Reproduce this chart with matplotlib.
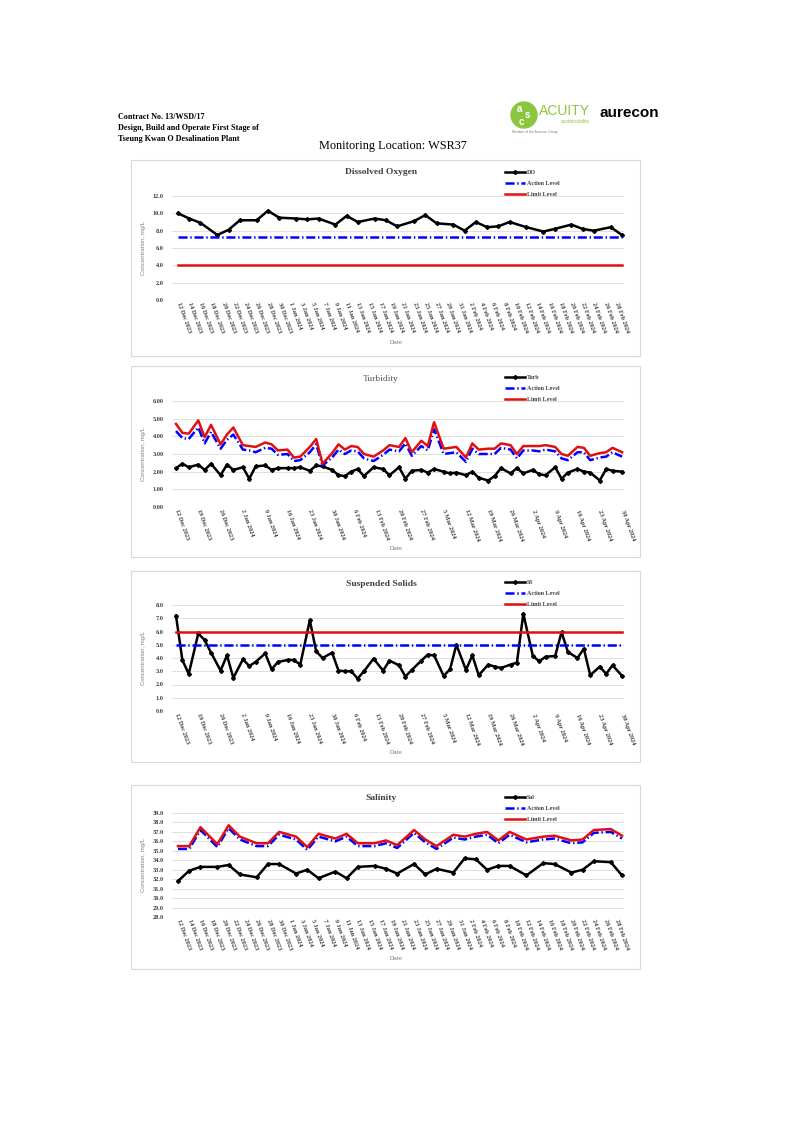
import pandas as pd
import matplotlib
matplotlib.use('Agg')
import matplotlib.pyplot as plt
import matplotlib.dates as mdates
from matplotlib.patches import Rectangle, Circle
from matplotlib.transforms import IdentityTransform
from matplotlib.ticker import FixedLocator, FuncFormatter

plt.rcParams['lines.scale_dashes'] = False

# ---------------- data ----------------
dates_dec_feb = ['2023-12-12', '2023-12-14', '2023-12-16', '2023-12-19', '2023-12-21', '2023-12-23',
                 '2023-12-26', '2023-12-28', '2023-12-30', '2024-01-02', '2024-01-04', '2024-01-06',
                 '2024-01-09', '2024-01-11', '2024-01-13', '2024-01-16', '2024-01-18', '2024-01-20',
                 '2024-01-23', '2024-01-25', '2024-01-27', '2024-01-30', '2024-02-01', '2024-02-03',
                 '2024-02-05', '2024-02-07', '2024-02-09', '2024-02-12', '2024-02-15', '2024-02-17',
                 '2024-02-20', '2024-02-22', '2024-02-24', '2024-02-27', '2024-02-29']
dates_mar_apr = ['2024-03-02', '2024-03-05', '2024-03-07', '2024-03-09', '2024-03-12', '2024-03-14',
                 '2024-03-16', '2024-03-19', '2024-03-21', '2024-03-23', '2024-03-26', '2024-03-28',
                 '2024-03-30', '2024-04-02', '2024-04-04', '2024-04-06', '2024-04-09', '2024-04-11',
                 '2024-04-13', '2024-04-16', '2024-04-18', '2024-04-20', '2024-04-23', '2024-04-25',
                 '2024-04-27', '2024-04-30']

do_values = [10.0, 9.4, 8.9, 7.5, 8.1, 9.2, 9.2, 10.3, 9.5, 9.4, 9.3, 9.4, 8.7, 9.7, 9.0, 9.4, 9.2, 8.5,
             9.1, 9.8, 8.85, 8.7, 8.0, 9.0, 8.4, 8.5, 9.0, 8.4, 7.9, 8.2, 8.7, 8.2, 8.0, 8.4, 7.5]
do_action = 7.3
do_limit = 4.0

turb_values = [2.2, 2.45, 2.25, 2.4, 2.1, 2.45, 1.8, 2.4, 2.1, 2.25,
               1.6, 2.3, 2.35, 2.1, 2.2, 2.2, 2.2, 2.25, 2.05, 2.35,
               2.3, 2.1, 1.8, 1.75, 2.0, 2.15, 1.75, 2.25, 2.15, 1.8,
               2.25, 1.6, 2.05, 2.1, 1.95, 2.15, 2.0, 1.9, 1.95, 1.8,
               2.0, 1.65, 1.5, 1.75, 2.2, 1.9, 2.2, 1.9, 2.1, 1.85,
               1.8, 2.25, 1.6, 1.95, 2.15, 2.0, 1.95, 1.5, 2.15, 2.05, 2.0]
turb_action = [4.3, 3.9, 3.85, 4.5, 3.6, 4.25, 3.3, 3.8, 4.1, 3.25,
               3.2, 3.1, 3.35, 3.3, 2.95, 3.0, 2.6, 2.65, 3.1, 3.55,
               2.35, 2.8, 3.25, 3.0, 3.2, 3.15, 2.75, 2.6, 2.95, 3.25,
               3.15, 3.6, 2.9, 3.45, 3.2, 4.4, 3.0, 3.05, 3.1, 2.55,
               3.3, 3.0, 3.0, 3.0, 3.35, 3.25, 2.75, 3.2, 3.2, 3.15,
               3.25, 3.15, 2.75, 2.65, 3.1, 3.1, 2.65, 2.8, 2.85, 3.1, 2.85]
turb_limit = [4.7, 4.2, 4.15, 4.9, 3.95, 4.65, 3.55, 4.1, 4.5, 3.5,
              3.45, 3.4, 3.65, 3.55, 3.2, 3.25, 2.8, 2.85, 3.4, 3.85,
              2.45, 3.05, 3.55, 3.25, 3.45, 3.4, 3.0, 2.85, 3.2, 3.5,
              3.4, 3.9, 3.1, 3.75, 3.45, 4.8, 3.3, 3.35, 3.4, 2.8,
              3.6, 3.25, 3.3, 3.3, 3.6, 3.5, 3.0, 3.45, 3.45, 3.45,
              3.5, 3.4, 3.0, 2.9, 3.4, 3.35, 2.9, 3.05, 3.1, 3.35, 3.1]

ss_values = [7.2, 3.85, 2.8, 5.85, 5.35, 4.4, 3.05, 4.2, 2.5, 3.9,
             3.4, 3.7, 4.35, 3.15, 3.7, 3.85, 3.85, 3.5, 6.85, 4.5,
             4.0, 4.4, 3.05, 3.0, 3.0, 2.45, 3.0, 3.95, 3.05, 3.8,
             3.45, 2.6, 3.1, 3.8, 4.25, 4.2, 2.65, 3.15, 5.0, 3.1,
             4.2, 2.7, 3.5, 3.35, 3.25, 3.5, 3.65, 7.35, 4.15, 3.75,
             4.1, 4.15, 5.95, 4.45, 4.0, 4.7, 2.7, 3.35, 2.8, 3.45, 2.65]
ss_action = 5.0
ss_limit = 6.0

sal_values = [31.8, 32.9, 33.3, 33.3, 33.5, 32.5, 32.2, 33.6, 33.6, 32.6, 33.0, 32.1, 32.8, 32.1, 33.3,
              33.4, 33.1, 32.6, 33.6, 32.5, 33.1, 32.7, 34.2, 34.1, 33.0, 33.4, 33.4, 32.4, 33.7, 33.6,
              32.7, 33.0, 33.9, 33.8, 32.4]
sal_action = [35.2, 35.2, 37.2, 35.4, 37.4, 36.2, 35.5, 35.5, 36.7, 36.2, 35.1, 36.5, 36.0, 36.5, 35.5,
              35.5, 35.8, 35.3, 36.9, 35.9, 35.2, 36.4, 36.2, 36.5, 36.7, 35.8, 36.7, 35.9, 36.2, 36.3,
              35.8, 35.9, 36.9, 37.0, 36.3]
sal_limit = [35.5, 35.5, 37.5, 35.7, 37.7, 36.5, 35.8, 35.8, 37.0, 36.5, 35.4, 36.8, 36.3, 36.8, 35.8,
             35.8, 36.1, 35.6, 37.2, 36.2, 35.5, 36.7, 36.5, 36.8, 37.0, 36.1, 37.0, 36.2, 36.5, 36.6,
             36.1, 36.2, 37.2, 37.3, 36.6]

short_tick_range = ('2023-12-12', '2024-02-28', '2D')
long_tick_range = ('2023-12-12', '2024-04-30', '7D')

header_lines = ['Contract No. 13/WSD/17', 'Design, Build and Operate First Stage of',
                'Tseung Kwan O Desalination Plant']
location_title = 'Monitoring Location: WSR37'

# ---------------- layout helpers ----------------
W, H = 794, 1123
fig = plt.figure(figsize=(W / 100, H / 100), dpi=100)
fig.patch.set_facecolor('white')

SERIF = 'Liberation Serif'
TXT = '#404040'
GRID = '#d9d9d9'
BLUE = '#0000ff'
RED = '#e01010'


def fx(x):
    return x / W


def fy(y):
    return 1 - y / H


def datefmt(x, pos):
    d = mdates.num2date(x)
    return f"{d.day} {d.strftime('%b %Y')}"


def chart(box_y, plot_y, title, title_y, title_weight, title_color, dates, main, main_label,
          action, limit, ylim, ystep, yfmt, tick_range, pad_l, pad_r, legend_y, date_y):
    fig.patches.append(Rectangle((fx(131), fy(box_y[1])), fx(640) - fx(131), fy(box_y[0]) - fy(box_y[1]),
                                 transform=fig.transFigure, fill=False, edgecolor=GRID, lw=0.8))
    left, right = 172, 624
    ax = fig.add_axes([fx(left), fy(plot_y[1]), fx(right) - fx(left), fy(plot_y[0]) - fy(plot_y[1])])
    ax.set_facecolor('none')
    for s in ax.spines.values():
        s.set_visible(False)
    d = pd.to_datetime(dates)
    ax.plot(d, main, color='black', lw=1.8, marker='D', ms=2.0, label=main_label, zorder=3)
    if isinstance(action, list):
        ax.plot(d, action, color=BLUE, lw=1.8, dashes=(6.5, 2, 1, 2), label='Action Level', zorder=4)
        ax.plot(d, limit, color=RED, lw=1.8, label='Limit Level', zorder=5)
    else:
        ax.plot([d[0], d[-1]], [action, action], color=BLUE, lw=1.8, dashes=(6.5, 2, 1, 2),
                label='Action Level', zorder=4)
        ax.plot([d[0], d[-1]], [limit, limit], color=RED, lw=1.8, label='Limit Level', zorder=5)
    ax.set_ylim(*ylim)
    yt = []
    v = ylim[0]
    while v <= ylim[1] + 1e-9:
        yt.append(v)
        v += ystep
    ax.set_yticks(yt)
    ax.yaxis.set_major_formatter(FuncFormatter(lambda y, p: yfmt.format(y)))
    ax.grid(axis='y', color=GRID, lw=0.6)
    ax.set_axisbelow(True)
    ticks = pd.date_range(tick_range[0], tick_range[1], freq=tick_range[2])
    ax.xaxis.set_major_locator(FixedLocator(mdates.date2num(ticks)))
    ax.xaxis.set_major_formatter(FuncFormatter(datefmt))
    ax.set_xlim(d[0] - pd.Timedelta(days=pad_l), d[-1] + pd.Timedelta(days=pad_r))
    ax.tick_params(axis='both', length=0)
    ax.tick_params(axis='y', pad=6)
    ax.tick_params(axis='x', pad=2)
    for lab in ax.get_yticklabels():
        lab.set_fontfamily(SERIF)
        lab.set_fontweight('bold')
        lab.set_fontsize(4.5)
        lab.set_color(TXT)
    for lab in ax.get_xticklabels():
        lab.set_fontfamily(SERIF)
        lab.set_fontweight('bold')
        lab.set_fontsize(4.5)
        lab.set_color(TXT)
        lab.set_rotation(-70)
        lab.set_ha('left')
        lab.set_va('center')
        lab.set_rotation_mode('anchor')
    fig.text(fx(381), fy(title_y), title, ha='center', va='center', fontfamily=SERIF,
             fontsize=6.8, fontweight=title_weight, color=title_color)
    fig.text(fx(143), fy((plot_y[0] + plot_y[1]) / 2), 'Concentration, mg/L', rotation=90,
             ha='center', va='center', fontsize=4.3, color='#7f7f7f', fontfamily='Liberation Sans')
    fig.text(fx(396), fy(date_y), 'Date', ha='center', va='center', fontsize=4.3,
             color='#7f7f7f', fontfamily='Liberation Sans')
    ax.legend(loc='upper left', bbox_to_anchor=(fx(505), fy(legend_y - 5)), bbox_transform=fig.transFigure,
              frameon=False, handlelength=3.4, handletextpad=0.3, labelspacing=1.0, borderpad=0,
              borderaxespad=0, prop={'family': SERIF, 'weight': 'bold', 'size': 4.3},
              labelcolor=TXT)
    return ax


dates_all = dates_dec_feb + dates_mar_apr

chart((160, 356), (196, 300), 'Dissolved Oxygen', 172, 'semibold', TXT, dates_dec_feb, do_values, 'DO',
      do_action, do_limit, (0, 12), 2, '{:.1f}', short_tick_range, 1.07, 0.36, 175, 343)
chart((366, 557), (401, 507), 'Turbidity', 379, 'normal', '#595959', dates_all, turb_values, 'Turb',
      turb_action, turb_limit, (0, 6), 1, '{:.2f}', long_tick_range, 1.25, 0.6, 380, 549)
chart((571, 762), (605, 711), 'Suspended Solids', 584, 'bold', TXT, dates_all, ss_values, 'SS',
      ss_action, ss_limit, (0, 8), 1, '{:.1f}', long_tick_range, 1.25, 0.6, 585, 752)
chart((785, 969), (813, 917), 'Salinity', 798, 'bold', TXT, dates_dec_feb, sal_values, 'Sal',
      sal_action, sal_limit, (28, 39), 1, '{:.1f}', short_tick_range, 1.07, 0.36, 800, 958)

# ---------------- header ----------------
for i, line in enumerate(header_lines):
    fig.text(fx(118), fy(117 + 11 * i), line, ha='left', va='center', fontfamily=SERIF,
             fontweight='bold', fontsize=5.9, color='black')
fig.text(fx(393), fy(146), location_title, ha='center', va='center', fontfamily=SERIF,
         fontsize=8.8, color='black')

# logos (pixel coordinates, y measured from bottom)
fig.patches.append(Circle((524, H - 115), 13, transform=IdentityTransform(), color='#8cc63f'))
for ch, (x, y) in zip('asc', [(519, 109), (527, 115), (521, 122)]):
    fig.text(fx(x), fy(y), ch, ha='center', va='center', fontsize=7, color='white',
             fontweight='bold', fontfamily='Liberation Sans')
fig.text(fx(539), fy(111), 'ACUITY', ha='left', va='center', fontsize=10, color='#8cc63f',
         fontfamily='Liberation Sans')
fig.text(fx(590), fy(121), 'sustainability', ha='right', va='center', fontsize=3.6, color='#8cc63f',
         fontfamily='Liberation Sans')
fig.text(fx(512), fy(132), 'Member of the Aurecon Group', ha='left', va='center', fontsize=2.4,
         color='#7f7f7f', fontfamily='Liberation Sans')
fig.text(fx(600), fy(113), 'aurecon', ha='left', va='center', fontsize=11, color='black',
         fontweight='bold', fontfamily='Liberation Sans')

fig.savefig('out.png', dpi=100, facecolor='white')
